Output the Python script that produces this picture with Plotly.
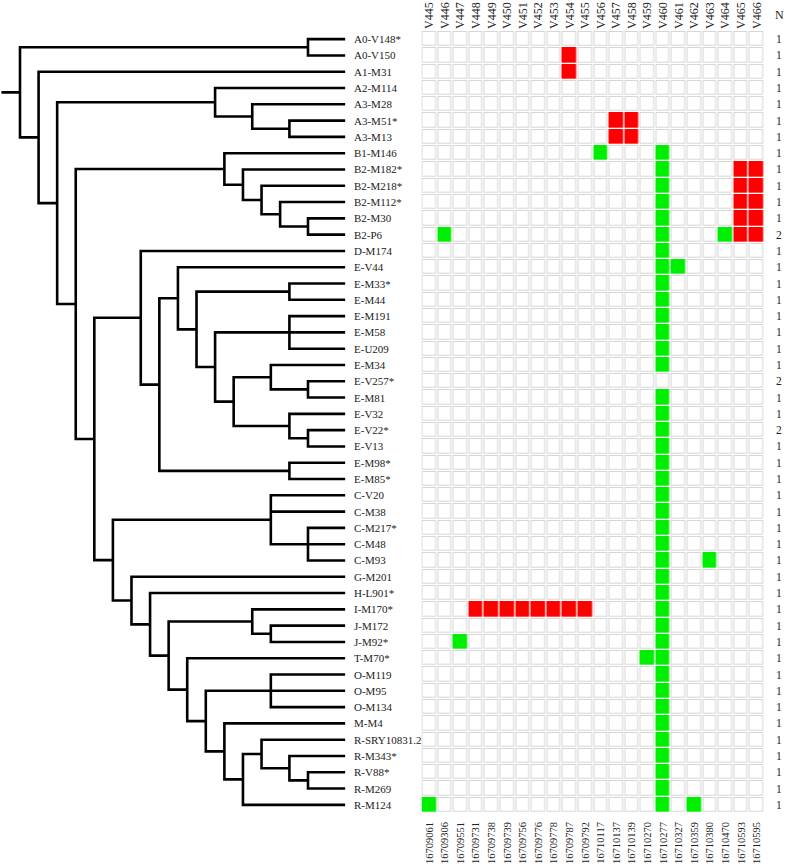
import plotly.graph_objects as go

# ---------------- data ----------------
leaf_names = [
    "A0-V148*", "A0-V150", "A1-M31", "A2-M114", "A3-M28", "A3-M51*", "A3-M13",
    "B1-M146", "B2-M182*", "B2-M218*", "B2-M112*", "B2-M30", "B2-P6", "D-M174",
    "E-V44", "E-M33*", "E-M44", "E-M191", "E-M58", "E-U209", "E-M34", "E-V257*",
    "E-M81", "E-V32", "E-V22*", "E-V13", "E-M98*", "E-M85*", "C-V20", "C-M38",
    "C-M217*", "C-M48", "C-M93", "G-M201", "H-L901*", "I-M170*", "J-M172", "J-M92*",
    "T-M70*", "O-M119", "O-M95", "O-M134", "M-M4", "R-SRY10831.2", "R-M343*",
    "R-V88*", "R-M269", "R-M124",
]

col_labels = ["V445", "V446", "V447", "V448", "V449", "V450", "V451", "V452",
              "V453", "V454", "V455", "V456", "V457", "V458", "V459", "V460",
              "V461", "V462", "V463", "V464", "V465", "V466"]

positions = ["16709061", "16709306", "16709551", "16709731", "16709738", "16709739",
             "16709756", "16709776", "16709778", "16709787", "16709792", "16710117",
             "16710137", "16710139", "16710270", "16710277", "16710327", "16710359",
             "16710380", "16710470", "16710593", "16710595"]

# '.' = absent, 'R' = red, 'G' = green  (columns V445..V466)
cell_rows = [
    "......................",  # A0-V148*
    ".........R............",  # A0-V150
    ".........R............",  # A1-M31
    "......................",  # A2-M114
    "......................",  # A3-M28
    "............RR........",  # A3-M51*
    "............RR........",  # A3-M13
    "...........G...G......",  # B1-M146
    "...............G....RR",  # B2-M182*
    "...............G....RR",  # B2-M218*
    "...............G....RR",  # B2-M112*
    "...............G....RR",  # B2-M30
    ".G.............G...GRR",  # B2-P6
    "...............G......",  # D-M174
    "...............GG.....",  # E-V44
    "...............G......",  # E-M33*
    "...............G......",  # E-M44
    "...............G......",  # E-M191
    "...............G......",  # E-M58
    "...............G......",  # E-U209
    "...............G......",  # E-M34
    "......................",  # E-V257*
    "...............G......",  # E-M81
    "...............G......",  # E-V32
    "...............G......",  # E-V22*
    "...............G......",  # E-V13
    "...............G......",  # E-M98*
    "...............G......",  # E-M85*
    "...............G......",  # C-V20
    "...............G......",  # C-M38
    "...............G......",  # C-M217*
    "...............G......",  # C-M48
    "...............G..G...",  # C-M93
    "...............G......",  # G-M201
    "...............G......",  # H-L901*
    "...RRRRRRRR....G......",  # I-M170*
    "...............G......",  # J-M172
    "..G............G......",  # J-M92*
    "..............GG......",  # T-M70*
    "...............G......",  # O-M119
    "...............G......",  # O-M95
    "...............G......",  # O-M134
    "...............G......",  # M-M4
    "...............G......",  # R-SRY10831.2
    "...............G......",  # R-M343*
    "...............G......",  # R-V88*
    "...............G......",  # R-M269
    "G..............G.G....",  # R-M124
]

n_values = [1] * 48
n_values[12] = 2
n_values[21] = 2
n_values[24] = 2

# tree: (node depth, [children]); leaves are names; leaf depth = 35
LEAF_DEPTH = 35
tree = (0, [
    (31, ["A0-V148*", "A0-V150"]),
    (2, ["A1-M31",
         (4, [
             (21, ["A2-M114", (25, ["A3-M28", (29, ["A3-M51*", "A3-M13"])])]),
             (6, [
                 (22, ["B1-M146", (24, ["B2-M182*", (26, ["B2-M218*",
                       (28, ["B2-M112*", (31, ["B2-M30", "B2-P6"])])])])]),
                 (8, [
                     (13, ["D-M174", (15, [
                         (17, ["E-V44", (19, [
                             (29, ["E-M33*", "E-M44"]),
                             (21, [
                                 (29, ["E-M191", "E-M58", "E-U209"]),
                                 (23, [
                                     (27, ["E-M34", (31, ["E-V257*", "E-M81"])]),
                                     (29, ["E-V32", (31, ["E-V22*", "E-V13"])]),
                                 ]),
                             ]),
                         ])]),
                         (29, ["E-M98*", "E-M85*"]),
                     ])]),
                     (10, [
                         (27, ["C-V20", "C-M38", (31, ["C-M217*", "C-M48", "C-M93"])]),
                         (12, ["G-M201", (14, ["H-L901*", (16, [
                             (25, ["I-M170*", (27, ["J-M172", "J-M92*"])]),
                             (18, ["T-M70*", (20, [
                                 (27, ["O-M119", "O-M95", "O-M134"]),
                                 (22, ["M-M4", (24, [
                                     (26, ["R-SRY10831.2", (29, ["R-M343*",
                                           (31, ["R-V88*", "R-M269"])])]),
                                     "R-M124",
                                 ])]),
                             ])]),
                         ])])]),
                     ]),
                 ]),
             ]),
         ]),
         ]),
])

# ---------------- layout geometry ----------------
W, H = 787, 866
M_TOP, M_BOT = 31, 53
CELL_LEFT_PX, CELL_RIGHT_PX = 421.5, 764.5
TREE_X0_PX, TREE_STEP_PX = 20.0, 9.29
FONT = "Liberation Serif, Times New Roman, serif"

leaf_index = {n: i for i, n in enumerate(leaf_names)}

tx, ty = [], []


def walk(node):
    if isinstance(node, str):
        return LEAF_DEPTH, float(leaf_index[node])
    depth, children = node
    cpos = [walk(c) for c in children]
    y0, y1 = cpos[0][1], cpos[-1][1]
    tx.extend([cpos[0][0], depth, depth, cpos[-1][0], None])
    ty.extend([y0, y0, y1, y1, None])
    for cx, cy in cpos[1:-1]:
        tx.extend([depth, cx, None])
        ty.extend([cy, cy, None])
    return depth, (y0 + y1) / 2


root_depth, root_y = walk(tree)
tx.extend([-2, root_depth, None])
ty.extend([root_y, root_y, None])

fig = go.Figure()

fig.add_trace(go.Scatter(
    x=tx, y=ty, mode="lines", xaxis="x", yaxis="y",
    line=dict(color="black", width=2.6), hoverinfo="skip", showlegend=False,
))

code = {".": 0, "R": 1, "G": 2}
z_all = [[code[c] for c in row] for row in cell_rows]
z_empty = [[1 if c == "." else None for c in row] for row in cell_rows]
xs = list(range(len(col_labels)))
ys = list(range(len(leaf_names)))

fig.add_trace(go.Heatmap(
    z=z_all, x=xs, y=ys, xaxis="x2", yaxis="y",
    zmin=0, zmax=2, showscale=False, xgap=1.3, ygap=1.3,
    colorscale=[[0, "#d6d6d6"], [0.33, "#d6d6d6"], [0.33, "#ff0000"],
                [0.67, "#ff0000"], [0.67, "#00ee00"], [1, "#00ee00"]],
    hoverinfo="skip",
))
fig.add_trace(go.Heatmap(
    z=z_empty, x=xs, y=ys, xaxis="x2", yaxis="y",
    zmin=0, zmax=1, showscale=False, xgap=3.3, ygap=3.3,
    colorscale=[[0, "#ffffff"], [1, "#ffffff"]], hoverinfo="skip",
))
fig.add_trace(go.Scatter(x=[xs[0], xs[-1]], y=[0, 0], xaxis="x3", yaxis="y",
                         mode="markers", marker=dict(opacity=0), hoverinfo="skip",
                         showlegend=False))

annotations = []
for name in leaf_names:
    annotations.append(dict(
        x=LEAF_DEPTH, y=leaf_index[name], xref="x", yref="y", text=name,
        showarrow=False, xanchor="left", yanchor="middle", xshift=7,
        font=dict(family=FONT, size=11, color="#222222"),
    ))
for i, n in enumerate(n_values):
    annotations.append(dict(
        x=778.5 / W, y=i, xref="paper", yref="y", text=str(n), showarrow=False,
        xanchor="center", yanchor="middle",
        font=dict(family=FONT, size=11.5, color="#222222"),
    ))
annotations.append(dict(
    x=779.3 / W, y=(H - M_BOT - 15) / (H - M_TOP - M_BOT), xref="paper", yref="paper",
    text="N", showarrow=False, xanchor="center", yanchor="middle",
    font=dict(family=FONT, size=12, color="#222222"),
))

tree_lo = -TREE_X0_PX / TREE_STEP_PX
tree_hi = (CELL_LEFT_PX - TREE_X0_PX) / TREE_STEP_PX

fig.update_layout(
    width=W, height=H,
    margin=dict(l=0, r=0, t=M_TOP, b=M_BOT, pad=0, autoexpand=False),
    paper_bgcolor="white", plot_bgcolor="white",
    showlegend=False, hovermode=False,
    xaxis=dict(domain=[0, CELL_LEFT_PX / W], range=[tree_lo, tree_hi], visible=False,
               fixedrange=True),
    xaxis2=dict(domain=[CELL_LEFT_PX / W, CELL_RIGHT_PX / W], range=[-0.5, 21.5],
                anchor="y", side="bottom", tickmode="array", tickvals=xs,
                ticktext=positions, tickangle=-90, ticks="", showgrid=False,
                zeroline=False, showline=False, ticklabelstandoff=6,
                tickfont=dict(family=FONT, size=10.5, color="#222222")),
    xaxis3=dict(domain=[CELL_LEFT_PX / W, CELL_RIGHT_PX / W], range=[-0.5, 21.5],
                anchor="y", overlaying="x2", side="top", tickmode="array",
                tickvals=xs, ticktext=col_labels, tickangle=-90, ticks="",
                showgrid=False, zeroline=False, showline=False, ticklabelstandoff=1,
                tickfont=dict(family=FONT, size=12, color="#222222")),
    yaxis=dict(domain=[0, 1], range=[47.5, -0.5], visible=False, fixedrange=True),
    annotations=annotations,
)

fig.write_html(
    "out.html",
    config={"displayModeBar": False, "staticPlot": True},
    post_script="document.body.style.margin='0px';document.body.style.overflow='hidden';",
)
